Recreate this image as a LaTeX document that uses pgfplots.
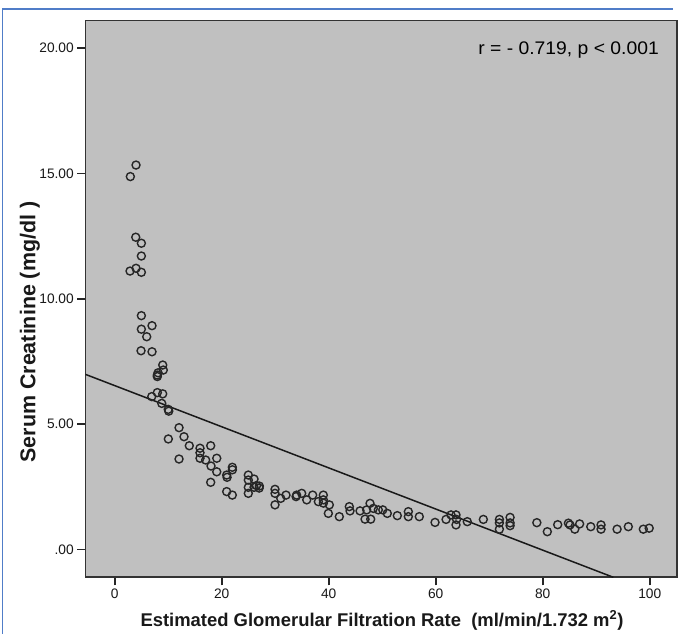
\documentclass[border=0pt]{standalone}
\usepackage{pgfplots}
\pgfplotsset{compat=1.18}
\usepackage{fontspec}
\setmainfont{Liberation Sans}
\definecolor{bggray}{RGB}{192,192,192}
\definecolor{frameblue}{RGB}{80,125,200}
\pgfplotstableread{
x y
2.92 14.88
3.98 15.34
3.93 12.46
4.98 12.22
4.98 11.71
2.86 11.11
3.98 11.22
4.98 11.06
4.98 9.33
4.98 8.79
6.97 8.93
5.98 8.49
4.92 7.93
6.97 7.89
8.97 7.36
9.08 7.16
7.96 6.96
7.96 6.90
8.10 7.05
6.92 6.10
7.96 6.26
8.97 6.21
8.79 5.83
10.00 5.59
10.10 5.52
12.02 4.86
10.02 4.41
12.95 4.50
13.94 4.14
12.02 3.61
15.94 4.04
15.94 3.86
17.94 4.14
15.94 3.64
17.00 3.57
19.07 3.64
18.00 3.33
19.07 3.10
17.94 2.68
21.98 3.28
22.00 3.18
20.93 2.97
21.00 2.88
20.93 2.31
21.98 2.17
24.97 2.97
24.97 2.77
26.04 2.81
24.97 2.48
26.04 2.48
27.03 2.53
27.00 2.45
24.97 2.24
26.50 2.55
29.96 2.40
29.96 2.24
31.03 2.04
32.02 2.17
29.96 1.78
33.89 2.11
34.95 2.24
34.00 2.17
35.89 1.98
37.00 2.17
38.06 1.91
38.99 2.17
38.99 1.98
39.00 1.85
40.11 1.78
39.93 1.44
41.98 1.31
43.85 1.71
43.98 1.54
45.85 1.54
46.79 1.21
47.72 1.84
47.10 1.58
47.85 1.21
48.34 1.64
49.27 1.58
50.10 1.58
50.95 1.44
52.82 1.35
54.88 1.51
54.88 1.31
56.93 1.31
59.87 1.08
61.93 1.20
62.86 1.38
63.79 1.38
63.90 1.20
63.79 0.98
65.90 1.11
68.90 1.20
71.90 1.20
71.90 1.06
71.90 0.81
73.90 1.28
73.90 1.06
73.90 0.95
78.90 1.07
80.86 0.71
82.80 0.99
84.80 1.05
85.10 0.98
86.00 0.81
86.90 1.02
88.98 0.91
90.90 0.98
90.90 0.81
93.90 0.81
96.00 0.91
98.80 0.81
99.90 0.85
}\gfrdata
\begin{document}
\begin{tikzpicture}
\useasboundingbox (0,0) rectangle (683bp,634bp);
\fill[white] (0,0) rectangle (683bp,634bp);
\draw[frameblue, line width=1.5bp] (2.5bp,0) -- (2.5bp,625bp) -- (673bp,625bp);
\begin{axis}[
  at={(85.3bp,56.7bp)}, anchor=south west,
  scale only axis, width=591.7bp, height=556.6bp,
  xmin=-5.5, xmax=105.1, ymin=-1.11, ymax=21.1,
  axis background/.style={fill=bggray},
  axis line style={draw=black!80, line width=1.6bp},
  xtick={0,20,40,60,80,100},
  ytick={0,5,10,15,20},
  yticklabels={.00,5.00,10.00,15.00,20.00},
  tick align=outside, major tick length=8bp,
  tick style={black!85, line width=1.8bp},
  xtick pos=bottom, ytick pos=left,
  tick label style={font=\fontsize{13.8}{15}\selectfont, text=black!90},
  /pgf/number format/assume math mode=true,
  clip=true,
]
\addplot[only marks, mark=o, mark size=4bp, mark options={draw=black!85, line width=1.4bp}] table[x=x, y=y] {\gfrdata};
\addplot[black!90, line width=1.5bp] coordinates {(-5.5,6.99) (93.2,-1.11)};
\end{axis}
\node[anchor=base east, inner sep=0pt, font=\fontsize{18.3}{20}\selectfont, text=black] at (659bp,579bp) {\scalebox{1.06}[1]{r = - 0.719, p < 0.001}};
\node[anchor=base, inner sep=0pt, font=\fontsize{18.5}{20}\selectfont\bfseries, text=black!90] at (382bp,8bp) {Estimated Glomerular Filtration Rate\ \ (ml/min/1.732 m\textsuperscript{2})};
\node[rotate=90, inner sep=0pt, font=\fontsize{21.5}{23}\selectfont\bfseries, text=black!90] at (30bp,302bp) {Serum Creatinine (mg/dl )};
\end{tikzpicture}
\end{document}
